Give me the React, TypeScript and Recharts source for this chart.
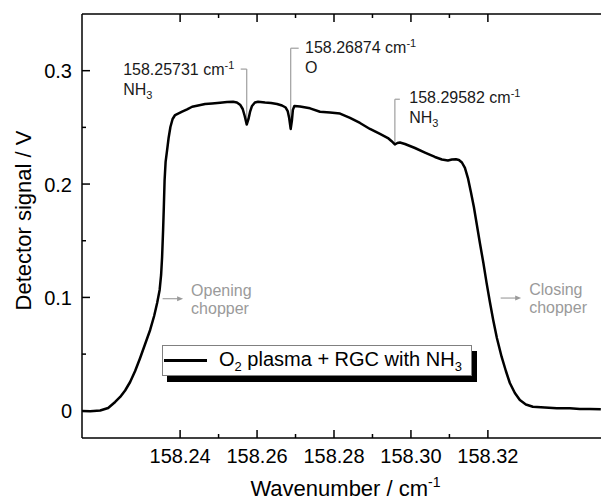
import React from 'react';
import { LineChart, Line, XAxis, YAxis, ReferenceLine, ReferenceDot, Legend } from 'recharts';

const FONT = '"Liberation Sans", Arial, Helvetica, sans-serif';

const wavenumber = [
  158.21455, 158.21662, 158.21922, 158.2213, 158.22312, 158.22442, 158.22571, 158.22701, 158.22831, 158.22961,
  158.23091, 158.23221, 158.23325, 158.23403, 158.23468, 158.23506, 158.23532, 158.23558, 158.23577, 158.23597,
  158.23623, 158.23662, 158.23701, 158.23748, 158.23805, 158.2387, 158.23948, 158.24052, 158.24182, 158.24312,
  158.24468, 158.24649, 158.24831, 158.25039, 158.25221, 158.25377, 158.25476, 158.25567, 158.25627, 158.25679,
  158.25731, 158.25778, 158.25817, 158.25869, 158.25944, 158.26026, 158.26208, 158.26364, 158.26519, 158.26649,
  158.26744, 158.26796, 158.26835, 158.26874, 158.26905, 158.26931, 158.2697, 158.27117, 158.27377, 158.27636,
  158.27896, 158.28156, 158.28416, 158.28675, 158.28935, 158.29195, 158.29403, 158.29491, 158.29582, 158.29647,
  158.29714, 158.29844, 158.30104, 158.30364, 158.30623, 158.30805, 158.30961, 158.31065, 158.31169, 158.31247,
  158.31325, 158.31403, 158.31481, 158.31558, 158.31636, 158.31714, 158.31792, 158.31883, 158.31966, 158.32052,
  158.32138, 158.32234, 158.32356, 158.32468, 158.32571, 158.32701, 158.32831, 158.32987, 158.33169, 158.33481,
  158.33792, 158.3413, 158.3439, 158.34649, 158.34935,
];

const signal = [
  -0.0002, -0.0004, 0.0003, 0.0025, 0.0078, 0.0122, 0.0179, 0.0254, 0.0351, 0.0466,
  0.0589, 0.0713, 0.0836, 0.0951, 0.1066, 0.1198, 0.1357, 0.1595, 0.1798, 0.2036,
  0.2195, 0.23, 0.2406, 0.2503, 0.2574, 0.2609, 0.2622, 0.2638, 0.2658, 0.2682,
  0.2693, 0.2706, 0.2711, 0.2718, 0.2724, 0.2726, 0.2719, 0.2697, 0.2662, 0.26,
  0.2525, 0.2574, 0.2636, 0.2689, 0.2719, 0.2726, 0.2719, 0.2715, 0.2706, 0.2693,
  0.2675, 0.2644, 0.2583, 0.2486, 0.2557, 0.2654, 0.2689, 0.2684, 0.2668, 0.2638,
  0.2631, 0.2622, 0.2583, 0.2539, 0.2486, 0.2442, 0.2406, 0.238, 0.2349, 0.2362,
  0.2367, 0.2353, 0.2318, 0.2278, 0.2239, 0.2217, 0.2208, 0.2217, 0.2218, 0.2212,
  0.219, 0.2142, 0.2053, 0.193, 0.1798, 0.1639, 0.148, 0.1304, 0.1128, 0.096,
  0.0801, 0.0642, 0.0477, 0.0351, 0.0245, 0.0157, 0.0095, 0.0056, 0.0036, 0.0029,
  0.0022, 0.0023, 0.0016, 0.0016, 0.0013,
];

const xMajorTicks = [158.24, 158.26, 158.28, 158.3, 158.32];
const xMinorTicks = [158.25, 158.27, 158.29, 158.31];
const xTickLabels = ['158.24', '158.26', '158.28', '158.30', '158.32'];
const yMajorTicks = [0, 0.1, 0.2, 0.3];
const yMinorTicks = [0.05, 0.15, 0.25];
const yTickLabels = ['0', '0.1', '0.2', '0.3'];
const xDomain = [158.2145, 158.3494];
const yDomain = [-0.024, 0.35];

const lineWavenumbers = [158.25731, 158.26874, 158.29582];
const lineLabels = ['158.25731', '158.26874', '158.29582'];
const lineSpecies = ['NH', 'O', 'NH'];
const lineSpeciesSub = ['3', '', '3'];
const leaderTop = [0.3014, 0.3198, 0.2748];
const leaderBottom = [0.2525, 0.2486, 0.2349];
const leaderEnd = [158.25575, 158.27082, 158.29712];
const labelX = [158.22519, 158.27247, 158.29956];
const labelY = [0.2962, 0.3153, 0.2718];

const chopperWords = [['Opening', 'chopper'], ['Closing', 'chopper']];
const chopperX = [158.24286, 158.33073];
const chopperY = [0.1015, 0.1021];

const legendMain = ['O', ' plasma + RGC with NH'];
const legendSubs = ['2', '3'];
const seriesName = 'O2 plasma + RGC with NH3';

const data = wavenumber.map((x, i) => ({ x, y: signal[i] }));
const xTicks = [...xMajorTicks, ...xMinorTicks].sort((a, b) => a - b);
const yTicks = [...yMajorTicks, ...yMinorTicks].sort((a, b) => a - b);

const near = (a: number, b: number) => Math.abs(a - b) < 1e-7;
const GRAY_TEXT = '#9a9a9a';
const LEADER = '#a6a6a6';

function BottomTick(props: any) {
  const { x, y, payload } = props;
  const i = xMajorTicks.findIndex((v) => near(v, payload.value));
  const major = i >= 0;
  return (
    <g>
      <line x1={x} x2={x} y1={y} y2={y - (major ? 8 : 4)} stroke="#000" strokeWidth={1.5} />
      {major && (
        <text x={x} y={y + 24.5} textAnchor="middle" fontSize={20} fill="#000" fontFamily={FONT}>
          {xTickLabels[i]}
        </text>
      )}
    </g>
  );
}

function TopTick(props: any) {
  const { x, y, payload } = props;
  const major = xMajorTicks.some((v) => near(v, payload.value));
  return <line x1={x} x2={x} y1={y} y2={y + (major ? 8 : 4)} stroke="#000" strokeWidth={1.5} />;
}

function LeftTick(props: any) {
  const { x, y, payload } = props;
  const i = yMajorTicks.findIndex((v) => near(v, payload.value));
  const major = i >= 0;
  return (
    <g>
      <line x1={x} x2={x + (major ? 8 : 4)} y1={y} y2={y} stroke="#000" strokeWidth={1.5} />
      {major && (
        <text x={x - 10} y={y + 7.5} textAnchor="end" fontSize={20} fill="#000" fontFamily={FONT}>
          {yTickLabels[i]}
        </text>
      )}
    </g>
  );
}

function LegendBox() {
  return (
    <div
      style={{
        boxSizing: 'border-box',
        width: 310,
        height: 31,
        border: '1px solid #808080',
        background: '#fff',
        boxShadow: '5px 6px 0 0 #000',
        display: 'flex',
        alignItems: 'center',
        fontFamily: FONT,
        fontSize: 20,
        lineHeight: '23px',
        color: '#000',
        whiteSpace: 'nowrap',
      }}
    >
      <div style={{ width: 43, height: 2.5, background: '#000', marginLeft: 1 }} />
      <span style={{ marginLeft: 12 }}>
        {legendMain[0]}
        <span style={{ fontSize: 13, position: 'relative', top: 5 }}>{legendSubs[0]}</span>
        {legendMain[1]}
        <span style={{ fontSize: 13, position: 'relative', top: 5 }}>{legendSubs[1]}</span>
      </span>
    </div>
  );
}

export default function App() {
  return (
    <div style={{ position: 'absolute', left: 0, top: 0, width: 601, height: 503, overflow: 'hidden', background: '#fff' }}>
      <LineChart width={601} height={503} data={data} margin={{ top: 0, right: 0, bottom: 0, left: 0 }}>
        <XAxis
          xAxisId="b"
          dataKey="x"
          type="number"
          domain={xDomain}
          allowDataOverflow
          ticks={xTicks}
          interval={0}
          tickSize={0}
          tickMargin={0}
          tickLine={false}
          tick={BottomTick}
          axisLine={{ stroke: '#000', strokeWidth: 1.5 }}
          height={65}
          label={{
            content: (p: any) => {
              const vb = p.viewBox;
              return (
                <text x={vb.x + vb.width / 2 + 4} y={vb.y + 58} textAnchor="middle" fontSize={22} fill="#000" fontFamily={FONT}>
                  Wavenumber / cm<tspan dy={-9} fontSize={14}>-1</tspan>
                </text>
              );
            },
          }}
        />
        <XAxis
          xAxisId="t"
          orientation="top"
          dataKey="x"
          type="number"
          domain={xDomain}
          allowDataOverflow
          ticks={xTicks}
          interval={0}
          tickSize={0}
          tickMargin={0}
          tickLine={false}
          tick={TopTick}
          axisLine={{ stroke: '#000', strokeWidth: 1.5 }}
          height={14}
        />
        <YAxis
          yAxisId="l"
          type="number"
          domain={yDomain}
          allowDataOverflow
          ticks={yTicks}
          interval={0}
          tickSize={0}
          tickMargin={0}
          tickLine={false}
          tick={LeftTick}
          axisLine={{ stroke: '#000', strokeWidth: 1.5 }}
          width={82}
          label={{
            content: (p: any) => {
              const vb = p.viewBox;
              const cx = 31;
              const cy = vb.y + vb.height / 2 - 5.5;
              return (
                <text x={cx} y={cy} transform={`rotate(-90, ${cx}, ${cy})`} textAnchor="middle" fontSize={22} fill="#000" fontFamily={FONT}>
                  Detector signal / V
                </text>
              );
            },
          }}
        />
        {lineWavenumbers.map((w, i) => (
          <ReferenceLine
            key={`v${i}`}
            xAxisId="b"
            yAxisId="l"
            ifOverflow="visible"
            segment={[{ x: w, y: leaderTop[i] }, { x: w, y: leaderBottom[i] }]}
            stroke={LEADER}
            strokeWidth={1.3}
          />
        ))}
        {lineWavenumbers.map((w, i) => (
          <ReferenceLine
            key={`h${i}`}
            xAxisId="b"
            yAxisId="l"
            ifOverflow="visible"
            segment={[{ x: w, y: leaderTop[i] }, { x: leaderEnd[i], y: leaderTop[i] }]}
            stroke={LEADER}
            strokeWidth={1.3}
          />
        ))}
        {lineWavenumbers.map((w, i) => (
          <ReferenceDot
            key={`t${i}`}
            xAxisId="b"
            yAxisId="l"
            x={labelX[i]}
            y={labelY[i]}
            r={0}
            ifOverflow="visible"
            shape={(p: any) => (
              <g fontFamily={FONT} fill="#1a1a1a">
                <text x={p.cx} y={p.cy} fontSize={16}>
                  {lineLabels[i]} cm<tspan dy={-6} fontSize={11}>-1</tspan>
                </text>
                <text x={p.cx} y={p.cy + 20} fontSize={16}>
                  {lineSpecies[i]}
                  {lineSpeciesSub[i] && (
                    <tspan dy={4} fontSize={11}>
                      {lineSpeciesSub[i]}
                    </tspan>
                  )}
                </text>
              </g>
            )}
          />
        ))}
        {chopperX.map((cxv, i) => (
          <ReferenceDot
            key={`c${i}`}
            xAxisId="b"
            yAxisId="l"
            x={cxv}
            y={chopperY[i]}
            r={0}
            ifOverflow="visible"
            shape={(p: any) => (
              <g fontFamily={FONT}>
                <line x1={p.cx - 28.5} x2={p.cx - 13} y1={p.cy + 3} y2={p.cy + 3} stroke={GRAY_TEXT} strokeWidth={1.1} />
                <path d={`M${p.cx - 8},${p.cy + 3} L${p.cx - 14},${p.cy + 0.5} L${p.cx - 14},${p.cy + 5.5} Z`} fill={GRAY_TEXT} />
                <text x={p.cx} y={p.cy} fontSize={16} fill={GRAY_TEXT}>
                  {chopperWords[i][0]}
                </text>
                <text x={p.cx} y={p.cy + 18} fontSize={16} fill={GRAY_TEXT}>
                  {chopperWords[i][1]}
                </text>
              </g>
            )}
          />
        ))}
        <Line
          xAxisId="b"
          yAxisId="l"
          dataKey="y"
          name={seriesName}
          type="linear"
          stroke="#000"
          strokeWidth={2.5}
          strokeLinejoin="round"
          dot={false}
          activeDot={false}
          isAnimationActive={false}
        />
        <Legend
          layout="vertical"
          align="center"
          verticalAlign="middle"
          content={() => <LegendBox />}
          wrapperStyle={{ left: 162, top: 345, width: 310, height: 31 }}
        />
      </LineChart>
    </div>
  );
}
